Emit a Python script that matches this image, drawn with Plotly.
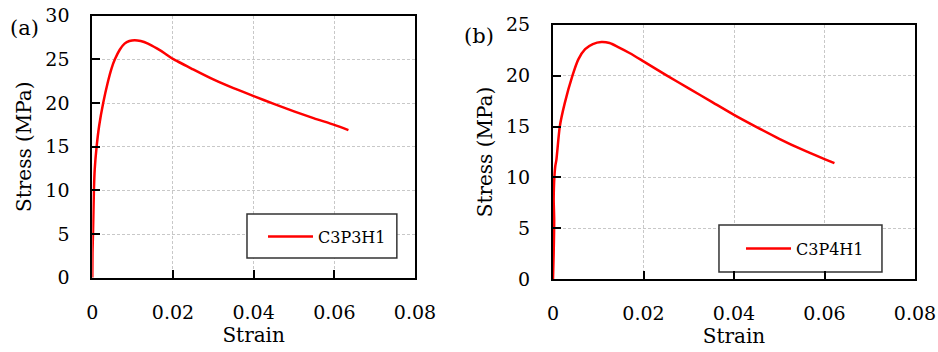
import plotly.graph_objects as go

# ---- data ----
strain_a = [0, 0.00005, 0.00017, 0.0004, 0.0006, 0.00107, 0.0017, 0.0027, 0.0038, 0.0048,
            0.0056, 0.0068, 0.0080, 0.0092, 0.0105, 0.0120, 0.0138, 0.0160, 0.0180, 0.0200,
            0.0250, 0.0300, 0.0350, 0.0400, 0.0450, 0.0500, 0.0550, 0.0600, 0.0635]
stress_a = [0, 2.9, 5.0, 10.0, 12.4, 15.0, 17.4, 20.0, 22.3, 24.0,
            25.0, 26.1, 26.8, 27.1, 27.2, 27.1, 26.8, 26.25, 25.68, 25.05,
            23.85, 22.7, 21.7, 20.8, 19.9, 19.05, 18.25, 17.5, 16.9]

strain_b = [0, 0.00015, 0.00026, 0.00015, 0.0002, 0.0003, 0.0005, 0.00074, 0.0015, 0.0026,
            0.0043, 0.0056, 0.0071, 0.0088, 0.0107, 0.0125, 0.0144, 0.0170, 0.0200, 0.0250,
            0.0300, 0.0350, 0.0400, 0.0450, 0.0500, 0.0550, 0.0600, 0.0622]
stress_b = [0, 2.6, 5.8, 7.8, 9.0, 10.0, 11.1, 11.7, 15.0, 17.3,
            20.0, 21.6, 22.6, 23.1, 23.3, 23.2, 22.8, 22.2, 21.4, 20.05,
            18.75, 17.45, 16.15, 14.95, 13.8, 12.75, 11.8, 11.4]

name_a = "C3P3H1"
name_b = "C3P4H1"
x_ticks = [0, 0.02, 0.04, 0.06, 0.08]
y_ticks_a = [0, 5, 10, 15, 20, 25, 30]
y_ticks_b = [0, 5, 10, 15, 20, 25]

W, H = 938, 352
FONT = "DejaVu Serif"

def px_x(p):
    return p / W

def px_y(p):
    return 1 - p / H

fig = go.Figure()
fig.add_trace(go.Scatter(x=strain_a, y=stress_a, mode="lines", name=name_a,
                         line=dict(color="#ff0000", width=2.5, shape="spline", smoothing=0.6),
                         xaxis="x", yaxis="y", legend="legend", showlegend=True))
fig.add_trace(go.Scatter(x=strain_b, y=stress_b, mode="lines", name=name_b,
                         line=dict(color="#ff0000", width=2.5, shape="spline", smoothing=0.6),
                         xaxis="x2", yaxis="y2", legend="legend2", showlegend=True))

def axis_style(standoff):
    return dict(
        showline=True, linecolor="black", linewidth=2, mirror=True,
        ticks="inside", ticklen=8, tickwidth=2, tickcolor="black",
        showgrid=True, gridcolor="#c8c8c8", gridwidth=1, griddash="3px,2px",
        zeroline=False, automargin=False, ticklabelstandoff=standoff,
        tickfont=dict(family=FONT, size=19, color="black"),
    )

title_font = dict(family=FONT, size=20, color="black")
legend_font = dict(family=FONT, size=16, color="black")

fig.update_layout(
    template="none",
    width=W, height=H,
    margin=dict(l=0, r=0, t=0, b=0),
    paper_bgcolor="white", plot_bgcolor="white",
    font=dict(family=FONT, color="black", size=18),
    xaxis=dict(domain=[px_x(92.3), px_x(415)], range=[0, 0.08], tickvals=x_ticks,
               anchor="y", title=dict(text="Strain", font=title_font, standoff=1),
               **axis_style(16)),
    yaxis=dict(domain=[px_y(277.7), px_y(15.7)], range=[0, 30], tickvals=y_ticks_a,
               anchor="x", title=dict(text="Stress (MPa)", font=title_font, standoff=8),
               **axis_style(17)),
    xaxis2=dict(domain=[px_x(553), px_x(915)], range=[0, 0.08], tickvals=x_ticks,
                anchor="y2", title=dict(text="Strain", font=title_font, standoff=1),
                **axis_style(16)),
    yaxis2=dict(domain=[px_y(279.3), px_y(24.7)], range=[0, 25], tickvals=y_ticks_b,
                anchor="x2", title=dict(text="Stress (MPa)", font=title_font, standoff=8),
                **axis_style(17)),
    legend=dict(x=px_x(263), y=px_y(236.7), xanchor="left", yanchor="middle",
                bgcolor="rgba(0,0,0,0)", borderwidth=0, itemwidth=45,
                font=legend_font),
    legend2=dict(x=px_x(741), y=px_y(248.7), xanchor="left", yanchor="middle",
                 bgcolor="rgba(0,0,0,0)", borderwidth=0, itemwidth=45,
                 font=legend_font),
    shapes=[
        dict(type="rect", xref="x", yref="y",
             x0=0.03835, x1=0.0755, y0=2.256, y1=7.294,
             line=dict(color="#333333", width=1.5), fillcolor="white", layer="between"),
        dict(type="rect", xref="x2", yref="y2",
             x0=0.03668, x1=0.0727, y0=0.717, y1=5.334,
             line=dict(color="#333333", width=1.5), fillcolor="white", layer="between"),
    ],
    annotations=[
        dict(text="(a)", xref="paper", yref="paper", x=px_x(24), y=px_y(28),
             xanchor="center", yanchor="middle", showarrow=False,
             font=dict(family=FONT, size=21, color="black")),
        dict(text="(b)", xref="paper", yref="paper", x=px_x(479), y=px_y(36),
             xanchor="center", yanchor="middle", showarrow=False,
             font=dict(family=FONT, size=21, color="black")),
    ],
)

fig.write_html("out.html")
